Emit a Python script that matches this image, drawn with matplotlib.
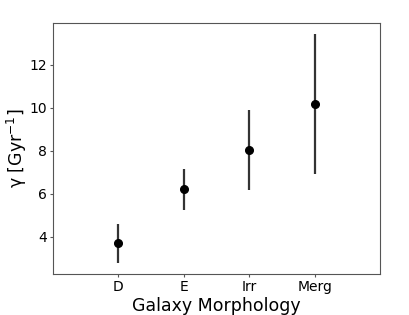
import numpy as np
import matplotlib
matplotlib.use("Agg")
import matplotlib.pyplot as plt

# ============================
# Data
# ============================

morphology = ["D", "E", "Irr", "Merg"]
gamma = [3.69, 6.20, 8.04, 10.17]
gamma_low = [2.79, 5.24, 6.17, 6.93]
gamma_high = [4.57, 7.13, 9.92, 13.42]

x = np.arange(len(morphology))
err_low = np.array(gamma) - np.array(gamma_low)
err_high = np.array(gamma_high) - np.array(gamma)

# ============================
# Plot
# ============================

fig = plt.figure(figsize=(4.09, 3.15), dpi=100)
ax = fig.add_axes([53 / 409, 1 - 274 / 315, 327 / 409, 251 / 315])

ax.errorbar(
    x, gamma,
    yerr=[err_low, err_high],
    fmt="o",
    color="black",
    ecolor="#333333",
    elinewidth=1.6,
    markersize=5.5,
)

ax.set_xlim(-1, 4)
ax.set_xticks(x)
ax.set_xticklabels(morphology)
ax.set_yticks([4, 6, 8, 10, 12])
ax.tick_params(labelsize=10, length=2.5, pad=2, color="#555555")

ax.set_xlabel("Galaxy Morphology", fontsize=12.5, labelpad=2)
ax.set_ylabel("γ [Gyr$^{-1}$]", fontsize=12.5, labelpad=0)

for s in ax.spines.values():
    s.set_color("#555555")

fig.savefig("out.png", dpi=100)
